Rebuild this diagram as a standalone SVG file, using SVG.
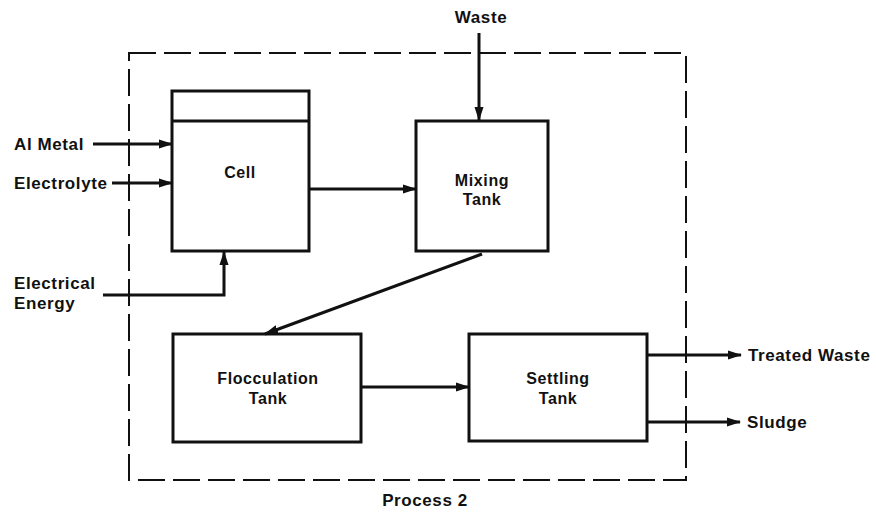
<svg xmlns="http://www.w3.org/2000/svg" width="876" height="518" viewBox="0 0 876 518">
<defs>
<marker id="ah" markerUnits="userSpaceOnUse" markerWidth="14" markerHeight="10" refX="13" refY="5" orient="auto">
<path d="M0,0.5 L14,5 L0,9.5 Z" fill="#111"/>
</marker>
<style>
.box{fill:#fff;stroke:#111;stroke-width:3;}
.conn{fill:none;stroke:#111;stroke-width:3;}
.bound{fill:none;stroke:#111;stroke-width:2;stroke-dasharray:27 8;}
text{font-family:"Liberation Sans",Arial,sans-serif;font-weight:bold;font-size:16px;fill:#111;letter-spacing:0.6px;}
.o{font-size:17px;letter-spacing:0.6px;}
.c{text-anchor:middle;}
</style>
</defs>
<rect width="876" height="518" fill="#fff"/>
<g id="process-boundary">
<rect class="bound" x="129" y="53" width="557" height="427"/>
<text class="c o" x="425" y="506">Process 2</text>
</g>
<g id="cell">
<rect class="box" x="172" y="91" width="137" height="160"/>
<line x1="172" y1="121" x2="309" y2="121" stroke="#111" stroke-width="3"/>
<text class="c" x="240" y="178">Cell</text>
</g>
<g id="mixing-tank">
<rect class="box" x="416" y="121" width="132" height="130"/>
<text class="c" x="482" y="186">Mixing</text>
<text class="c" x="482" y="205">Tank</text>
</g>
<g id="flocculation-tank">
<rect class="box" x="173" y="334" width="188" height="108"/>
<text class="c" x="268" y="384">Flocculation</text>
<text class="c" x="268" y="404">Tank</text>
</g>
<g id="settling-tank">
<rect class="box" x="469" y="334" width="178" height="107"/>
<text class="c" x="558" y="384">Settling</text>
<text class="c" x="558" y="404">Tank</text>
</g>
<g id="inputs-outputs">
<text class="o" x="14" y="150">Al Metal</text>
<text class="o" x="14" y="189">Electrolyte</text>
<text class="o" x="14" y="289">Electrical</text>
<text class="o" x="14" y="309">Energy</text>
<text class="c o" x="481" y="23">Waste</text>
<text class="o" x="748" y="361">Treated Waste</text>
<text class="o" x="747" y="428">Sludge</text>
</g>
<g id="connectors">
<line class="conn" x1="93" y1="144" x2="172" y2="144" marker-end="url(#ah)"/>
<line class="conn" x1="112" y1="183" x2="172" y2="183" marker-end="url(#ah)"/>
<polyline class="conn" points="103,295 224,295 224,252" marker-end="url(#ah)"/>
<line class="conn" x1="479" y1="33" x2="479" y2="120" marker-end="url(#ah)"/>
<line class="conn" x1="309" y1="189" x2="416" y2="189" marker-end="url(#ah)"/>
<line class="conn" x1="482" y1="254" x2="265" y2="334" marker-end="url(#ah)"/>
<line class="conn" x1="361" y1="387" x2="469" y2="387" marker-end="url(#ah)"/>
<line class="conn" x1="647" y1="355" x2="741" y2="355" marker-end="url(#ah)"/>
<line class="conn" x1="647" y1="422" x2="740" y2="422" marker-end="url(#ah)"/>
</g>
</svg>
